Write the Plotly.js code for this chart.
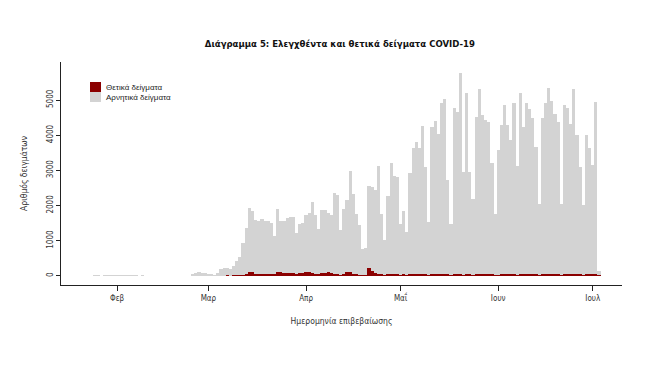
<!DOCTYPE html>
<html>
<head>
<meta charset="utf-8">
<script src="https://cdn.plot.ly/plotly-3.0.1.min.js"></script>
<style>html,body{margin:0;padding:0;background:#fff;}#chart{width:660px;height:380px;}</style>
</head>
<body>
<div id="chart"></div>
<script>
// Daily series, first day 2020-01-24, one value per day through 2020-07-03
const startDate = "2020-01-24";
const negatives = [
  10, 15, 20, 12, 25, 18, 30, 20,
  22, 15, 28, 20, 18, 25, 30, 12, 15, 8, 10, 8, 6, 10, 8, 6, 8, 10, 6, 8, 10, 8, 6, 10,
  60, 90, 100, 95, 85, 60, 70, 40, 70,
  200, 230, 220, 180, 250, 400, 500, 900, 1300,
  1830, 1730, 1540, 1500, 1560, 1520, 1510, 1450, 1080,
  1780, 1450, 1470, 1560, 1590, 1600, 1160,
  1400, 1420, 1620, 1690, 2020, 1680, 1300,
  1780, 1780, 1700, 1640, 2300, 2250, 1260,
  1830, 2040, 2870, 2250, 1720, 1420, 740,
  760, 2330, 2370, 2360, 3077, 1720, 975,
  2207, 3153, 2775, 2775, 1449, 1800, 1212,
  2870, 3580, 3770, 3580, 4195, 3060, 1497,
  4195, 4356, 3977, 4858, 4952, 2680, 1449,
  4716, 4621, 5710, 2917, 5142, 2917, 2160,
  4479, 5265, 4526, 4384, 4318, 3153, 1733,
  3530, 4240, 4790, 4250, 3810, 4870, 3100,
  5140, 4200, 4860, 4700, 4430, 3630, 2020,
  4432, 4858, 5284, 4905, 4545, 4336, 2020,
  4791, 4735, 4242, 5265, 3960, 3040, 1970,
  3960, 3580, 3106, 4886, 125
];
const positives = [
  0, 0, 0, 0, 0, 0, 0, 0,
  0, 0, 0, 0, 0, 0, 0, 0, 0, 0, 0, 0, 0, 0, 0, 0, 0, 0, 0, 0, 0, 0, 0, 0,
  0, 0, 0, 0, 0, 0, 0, 0, 2,
  10, 6, 15, 12, 20, 25, 30, 40, 55,
  110, 115, 60, 65, 60, 55, 60, 65, 50,
  125, 110, 80, 75, 85, 80, 60,
  85, 95, 110, 105, 90, 60, 45,
  85, 95, 100, 90, 70, 60, 40,
  60, 110, 105, 70, 50, 40, 30,
  30, 220, 150, 80, 55, 45, 35,
  60, 50, 65, 45, 40, 45, 35,
  55, 60, 45, 65, 70, 50, 35,
  50, 60, 55, 70, 65, 45, 35,
  55, 50, 60, 40, 65, 45, 35,
  45, 55, 60, 50, 45, 50, 35,
  40, 50, 55, 45, 60, 50, 35,
  50, 45, 65, 55, 50, 45, 35,
  50, 60, 55, 70, 60, 50, 35,
  55, 50, 65, 60, 55, 50, 40,
  50, 60, 55, 65, 15
];
const monthTickDates = ["2020-02-01", "2020-03-01", "2020-04-01", "2020-05-01", "2020-06-01", "2020-07-01"];
const monthTickLabels = ["Φεβ", "Μαρ", "Απρ", "Μαΐ", "Ιουν", "Ιουλ"];
const yTickValues = [0, 1000, 2000, 3000, 4000, 5000];
const seriesNames = ["Θετικά δείγματα", "Αρνητικά δείγματα"];
const seriesColors = ["#8B0000", "#D3D3D3"];

const dates = [];
const d0 = new Date(startDate + "T00:00:00Z");
for (let i = 0; i < negatives.length; i++) {
  const d = new Date(d0.getTime() + i * 86400000);
  dates.push(d.toISOString().slice(0, 10));
}

const fontMain = "'DejaVu Sans Condensed', 'DejaVu Sans', sans-serif";
const fontLegend = "'Liberation Sans', Arial, sans-serif";

const traces = [
  { type: "bar", name: seriesNames[0], x: dates, y: positives,
    marker: { color: seriesColors[0], line: { width: 0 } }, hoverinfo: "x+y" },
  { type: "bar", name: seriesNames[1], x: dates, y: negatives,
    marker: { color: seriesColors[1], line: { width: 0 } }, hoverinfo: "x+y" }
];

// Legend drawn as small swatches + labels (top-left inside plot)
const legendShapes = [];
const legendAnnotations = [];
const lgX0 = 90, lgY0 = 82, lgSw = 11, lgSh = 10;
seriesNames.forEach((nm, i) => {
  const ytop = lgY0 + i * lgSh;
  legendShapes.push({ type: "rect", xref: "paper", yref: "paper",
    x0: (lgX0 - 61) / 561, x1: (lgX0 + lgSw - 61) / 561,
    y0: (285 - ytop) / 223, y1: (285 - ytop - lgSh) / 223,
    fillcolor: seriesColors[i], line: { width: 0 } });
  legendAnnotations.push({ xref: "paper", yref: "paper",
    x: (lgX0 + lgSw + 3 - 61) / 561, y: (285 - ytop - lgSh / 2) / 223,
    xanchor: "left", yanchor: "middle", showarrow: false, text: nm,
    font: { family: fontLegend, size: 8, color: "#222" } });
});

const layout = {
  width: 660, height: 380,
  margin: { l: 61, r: 38, t: 62, b: 95 },
  paper_bgcolor: "#ffffff", plot_bgcolor: "#ffffff",
  barmode: "stack", bargap: 0,
  font: { family: fontMain, size: 8, color: "#222" },
  title: { text: "<b>Διάγραμμα 5: Ελεγχθέντα και θετικά δείγματα COVID-19</b>",
    x: 0.515, xanchor: "center", y: 0.885, yanchor: "middle",
    font: { family: fontMain, size: 9.5, color: "#111" } },
  xaxis: {
    type: "date", range: ["2020-01-14 05:00", "2020-07-10 07:00"],
    tickvals: monthTickDates, ticktext: monthTickLabels,
    ticks: "outside", ticklen: 5, tickcolor: "#222", tickwidth: 1,
    showline: true, linecolor: "#222", linewidth: 1, showgrid: false, zeroline: false,
    tickfont: { family: fontMain, size: 8, color: "#333" },
    title: { text: "Ημερομηνία επιβεβαίωσης", standoff: 16, font: { family: fontMain, size: 8.5, color: "#333" } }
  },
  yaxis: {
    range: [-256, 6080], tickvals: yTickValues, ticktext: yTickValues.map(String),
    tickangle: -90, ticks: "outside", ticklen: 4, tickcolor: "#222",
    showline: true, linecolor: "#222", linewidth: 1, showgrid: false, zeroline: false,
    tickfont: { family: fontMain, size: 8, color: "#333" },
    title: { text: "Αριθμός δειγμάτων", standoff: 16, font: { family: fontMain, size: 8.5, color: "#333" } }
  },
  showlegend: false,
  shapes: legendShapes,
  annotations: legendAnnotations
};

Plotly.newPlot("chart", traces, layout, { displayModeBar: false, staticPlot: true });
</script>
</body>
</html>
